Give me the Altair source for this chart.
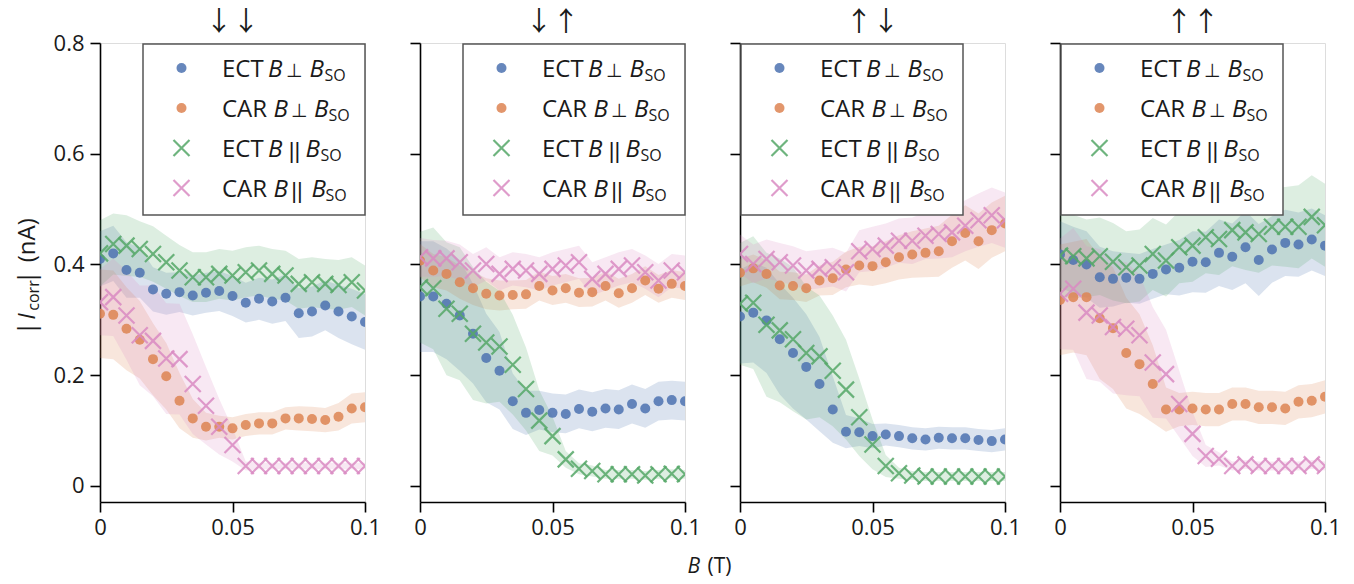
import altair as alt
import pandas as pd

# ---------------- data ----------------
B_T = [0.0, 0.005, 0.01, 0.015, 0.02, 0.025, 0.03, 0.035, 0.04, 0.045, 0.05,
       0.055, 0.06, 0.065, 0.07, 0.075, 0.08, 0.085, 0.09, 0.095, 0.1]

PANEL_TITLES = ["↓↓", "↓↑", "↑↓", "↑↑"]
SERIES = ["ECT_perp", "CAR_perp", "ECT_par", "CAR_par"]
COLORS = {"ECT_perp": "#4c72b0", "CAR_perp": "#dd8452",
          "ECT_par": "#55a868", "CAR_par": "#da8bc3"}

# panel 1  (down down)
p1_ect_perp = [0.41, 0.42, 0.39, 0.385, 0.355, 0.347, 0.35, 0.344, 0.349, 0.352, 0.343,
               0.331, 0.338, 0.333, 0.34, 0.312, 0.315, 0.326, 0.315, 0.306, 0.296]
p1_ect_perp_err = [0.05, 0.05, 0.05, 0.045, 0.04, 0.038, 0.036, 0.036, 0.036, 0.036, 0.036,
                   0.036, 0.038, 0.04, 0.042, 0.045, 0.045, 0.045, 0.048, 0.05, 0.05]
p1_car_perp = [0.311, 0.309, 0.284, 0.264, 0.229, 0.198, 0.154, 0.122, 0.107, 0.107, 0.104,
               0.11, 0.113, 0.113, 0.122, 0.122, 0.121, 0.119, 0.125, 0.14, 0.142]
p1_car_perp_err = [0.08, 0.08, 0.075, 0.07, 0.065, 0.06, 0.05, 0.035, 0.025, 0.02, 0.02,
                   0.02, 0.02, 0.02, 0.02, 0.022, 0.022, 0.022, 0.025, 0.027, 0.027]
p1_ect_par = [0.42, 0.437, 0.434, 0.428, 0.419, 0.404, 0.389, 0.377, 0.377, 0.383, 0.38,
              0.386, 0.389, 0.383, 0.38, 0.365, 0.368, 0.365, 0.363, 0.368, 0.353]
p1_ect_par_err = [0.06, 0.055, 0.055, 0.05, 0.05, 0.048, 0.046, 0.045, 0.045, 0.045, 0.045,
                  0.045, 0.045, 0.045, 0.045, 0.045, 0.045, 0.045, 0.045, 0.045, 0.045]
p1_car_par = [0.332, 0.341, 0.308, 0.272, 0.262, 0.23, 0.229, 0.184, 0.145, 0.107, 0.074,
              0.036, 0.036, 0.036, 0.036, 0.036, 0.036, 0.036, 0.036, 0.036, 0.036]
p1_car_par_err = [0.06, 0.07, 0.08, 0.09, 0.1, 0.1, 0.1, 0.09, 0.07, 0.05, 0.03,
                  0.008, 0.006, 0.006, 0.006, 0.006, 0.006, 0.006, 0.006, 0.006, 0.006]

# panel 2  (down up)
p2_ect_perp = [0.342, 0.342, 0.329, 0.308, 0.275, 0.231, 0.208, 0.153, 0.132, 0.137, 0.132,
               0.13, 0.139, 0.134, 0.14, 0.138, 0.148, 0.14, 0.153, 0.155, 0.153]
p2_ect_perp_err = [0.1, 0.1, 0.1, 0.1, 0.09, 0.08, 0.07, 0.05, 0.04, 0.035, 0.035,
                   0.035, 0.035, 0.035, 0.035, 0.035, 0.035, 0.035, 0.035, 0.035, 0.035]
p2_car_perp = [0.407, 0.389, 0.383, 0.368, 0.357, 0.347, 0.344, 0.345, 0.346, 0.361, 0.353,
               0.357, 0.349, 0.35, 0.361, 0.348, 0.357, 0.371, 0.356, 0.365, 0.361]
p2_car_perp_err = [0.03, 0.03, 0.03, 0.03, 0.03, 0.028, 0.027, 0.026, 0.026, 0.026, 0.026,
                   0.026, 0.026, 0.026, 0.026, 0.026, 0.026, 0.026, 0.025, 0.025, 0.025]
p2_ect_par = [0.359, 0.357, 0.32, 0.311, 0.275, 0.259, 0.252, 0.219, 0.175, 0.118, 0.09,
              0.048, 0.031, 0.027, 0.021, 0.021, 0.021, 0.019, 0.021, 0.022, 0.021]
p2_ect_par_err = [0.1, 0.11, 0.12, 0.12, 0.12, 0.11, 0.1, 0.09, 0.075, 0.055, 0.035,
                  0.015, 0.01, 0.01, 0.008, 0.008, 0.008, 0.008, 0.008, 0.008, 0.008]
p2_car_par = [0.413, 0.411, 0.411, 0.404, 0.389, 0.401, 0.383, 0.392, 0.389, 0.383, 0.392,
              0.398, 0.404, 0.374, 0.383, 0.392, 0.398, 0.386, 0.371, 0.389, 0.386]
p2_car_par_err = [0.035, 0.033, 0.032, 0.032, 0.03, 0.03, 0.03, 0.03, 0.03, 0.03, 0.03,
                  0.03, 0.03, 0.03, 0.03, 0.03, 0.03, 0.03, 0.03, 0.03, 0.03]

# panel 3  (up down)
p3_ect_perp = [0.306, 0.313, 0.299, 0.265, 0.24, 0.215, 0.184, 0.138, 0.098, 0.097, 0.09,
               0.093, 0.09, 0.086, 0.084, 0.087, 0.086, 0.086, 0.083, 0.081, 0.084]
p3_ect_perp_err = [0.085, 0.09, 0.095, 0.1, 0.1, 0.095, 0.085, 0.06, 0.03, 0.025, 0.022,
                   0.02, 0.02, 0.02, 0.02, 0.02, 0.02, 0.02, 0.02, 0.02, 0.02]
p3_car_perp = [0.385, 0.393, 0.383, 0.362, 0.361, 0.357, 0.371, 0.375, 0.391, 0.398, 0.397,
               0.404, 0.413, 0.418, 0.421, 0.424, 0.442, 0.457, 0.442, 0.462, 0.474]
p3_car_perp_err = [0.025, 0.025, 0.025, 0.025, 0.025, 0.025, 0.027, 0.03, 0.032, 0.034, 0.036,
                   0.038, 0.04, 0.042, 0.044, 0.046, 0.048, 0.05, 0.05, 0.05, 0.05]
p3_ect_par = [0.329, 0.331, 0.291, 0.281, 0.265, 0.24, 0.234, 0.208, 0.174, 0.124, 0.075,
              0.036, 0.023, 0.019, 0.017, 0.017, 0.017, 0.017, 0.017, 0.017, 0.017]
p3_ect_par_err = [0.11, 0.12, 0.13, 0.13, 0.13, 0.12, 0.11, 0.1, 0.09, 0.07, 0.045,
                  0.02, 0.01, 0.008, 0.008, 0.008, 0.008, 0.008, 0.008, 0.008, 0.008]
p3_car_par = [0.419, 0.401, 0.41, 0.404, 0.398, 0.389, 0.392, 0.395, 0.386, 0.424, 0.428,
              0.434, 0.443, 0.443, 0.452, 0.455, 0.458, 0.47, 0.48, 0.489, 0.48]
p3_car_par_err = [0.035, 0.035, 0.035, 0.035, 0.035, 0.035, 0.035, 0.035, 0.035, 0.038, 0.04,
                  0.04, 0.04, 0.042, 0.042, 0.044, 0.045, 0.046, 0.048, 0.05, 0.05]

# panel 4  (up up)
p4_ect_perp = [0.418, 0.408, 0.4, 0.377, 0.374, 0.376, 0.374, 0.383, 0.391, 0.394, 0.405,
               0.404, 0.421, 0.414, 0.431, 0.408, 0.427, 0.439, 0.436, 0.445, 0.434]
p4_ect_perp_err = [0.06, 0.06, 0.06, 0.055, 0.05, 0.045, 0.045, 0.045, 0.045, 0.05, 0.055,
                   0.055, 0.06, 0.06, 0.065, 0.065, 0.06, 0.06, 0.058, 0.056, 0.055]
p4_car_perp = [0.336, 0.341, 0.341, 0.303, 0.285, 0.24, 0.22, 0.184, 0.138, 0.138, 0.14,
               0.138, 0.138, 0.148, 0.148, 0.142, 0.142, 0.14, 0.152, 0.154, 0.161]
p4_car_perp_err = [0.1, 0.1, 0.105, 0.11, 0.11, 0.1, 0.09, 0.07, 0.04, 0.03, 0.03,
                   0.03, 0.03, 0.03, 0.03, 0.03, 0.03, 0.03, 0.03, 0.03, 0.03]
p4_ect_par = [0.416, 0.415, 0.411, 0.415, 0.405, 0.395, 0.398, 0.419, 0.407, 0.431, 0.434,
              0.449, 0.446, 0.462, 0.458, 0.455, 0.468, 0.468, 0.468, 0.486, 0.471]
p4_ect_par_err = [0.075, 0.075, 0.07, 0.07, 0.07, 0.065, 0.065, 0.065, 0.065, 0.065, 0.065,
                  0.065, 0.065, 0.065, 0.068, 0.07, 0.07, 0.072, 0.075, 0.075, 0.075]
p4_car_par = [0.347, 0.356, 0.313, 0.308, 0.287, 0.284, 0.272, 0.223, 0.202, 0.148, 0.094,
              0.054, 0.049, 0.036, 0.039, 0.036, 0.036, 0.036, 0.036, 0.039, 0.036]
p4_car_par_err = [0.1, 0.11, 0.12, 0.12, 0.12, 0.12, 0.11, 0.1, 0.08, 0.06, 0.04,
                  0.02, 0.012, 0.008, 0.008, 0.008, 0.008, 0.008, 0.008, 0.008, 0.008]

PANEL_DATA = [
    {"ECT_perp": (p1_ect_perp, p1_ect_perp_err), "CAR_perp": (p1_car_perp, p1_car_perp_err),
     "ECT_par": (p1_ect_par, p1_ect_par_err), "CAR_par": (p1_car_par, p1_car_par_err)},
    {"ECT_perp": (p2_ect_perp, p2_ect_perp_err), "CAR_perp": (p2_car_perp, p2_car_perp_err),
     "ECT_par": (p2_ect_par, p2_ect_par_err), "CAR_par": (p2_car_par, p2_car_par_err)},
    {"ECT_perp": (p3_ect_perp, p3_ect_perp_err), "CAR_perp": (p3_car_perp, p3_car_perp_err),
     "ECT_par": (p3_ect_par, p3_ect_par_err), "CAR_par": (p3_car_par, p3_car_par_err)},
    {"ECT_perp": (p4_ect_perp, p4_ect_perp_err), "CAR_perp": (p4_car_perp, p4_car_perp_err),
     "ECT_par": (p4_ect_par, p4_ect_par_err), "CAR_par": (p4_car_par, p4_car_par_err)},
]

X_TICKS = [0, 0.05, 0.1]
Y_TICKS = [0, 0.2, 0.4, 0.6, 0.8]

# ---------------- layout / style ----------------
W, H = 265, 459
FONT = "Open Sans"
INK = "#1a1a1a"
X_CROSS = "M-1,-1L1,1M-1,1L1,-1"
LEGEND_LEFT = [42, 42, 0, 0]      # legend box position inside each panel
LEG_W, LEG_H = 223, 172
ROW_BASE = [34, 74, 114, 154]

xscale = alt.Scale(domain=[0, 0.1], nice=False, zero=False)
yscale = alt.Scale(domain=[-0.029, 0.8], nice=False, zero=False)


def text_layer(rows, size, style="normal", align="left", font=FONT,
               baseline="alphabetic", angle=0):
    df = pd.DataFrame(rows, columns=["px", "py", "t"])
    return alt.Chart(df).mark_text(
        align=align, baseline=baseline, fontSize=size, fontStyle=style,
        font=font, angle=angle, color=INK, clip=False
    ).encode(x=alt.X("px:Q", scale=None), y=alt.Y("py:Q", scale=None), text="t:N")


def panel(i):
    first = i == 0
    xaxis = alt.Axis(values=X_TICKS, format=".2~f", title=None, grid=False,
                     labelFont=FONT, labelFontSize=22, labelColor=INK, labelPadding=5,
                     tickSize=10, tickWidth=1.6, tickColor="black",
                     domainColor="black", domainWidth=1.6, labelFlush=False)
    yaxis = alt.Axis(values=Y_TICKS, format=".1~f", title=None, grid=False,
                     labels=first, labelFont=FONT, labelFontSize=22, labelColor=INK,
                     labelPadding=6, tickSize=10, tickWidth=1.6, tickColor="black",
                     domainColor="black", domainWidth=1.6)
    layers = []
    bands = []
    pts = []
    for s in SERIES:
        vals, errs = PANEL_DATA[i][s]
        df = pd.DataFrame({"B": B_T, "v": vals,
                           "lo": [v - e for v, e in zip(vals, errs)],
                           "hi": [v + e for v, e in zip(vals, errs)]})
        c = COLORS[s]
        bands.append(alt.Chart(df).mark_area(color=c, opacity=0.2, clip=True).encode(
            x=alt.X("B:Q", scale=xscale, axis=xaxis),
            y=alt.Y("lo:Q", scale=yscale, axis=yaxis),
            y2="hi:Q"))
        if s.endswith("perp"):
            m = alt.Chart(df).mark_point(shape="circle", filled=True, size=100,
                                         opacity=0.85, color=c, clip=True)
        else:
            m = alt.Chart(df).mark_point(shape=X_CROSS, filled=False, size=256,
                                         strokeWidth=2.2, opacity=0.85, color=c, clip=True)
        pts.append(m.encode(x=alt.X("B:Q", scale=xscale, axis=xaxis),
                            y=alt.Y("v:Q", scale=yscale, axis=yaxis)))
    layers += bands + pts

    # legend (drawn by hand so that italics and subscripts can be shown)
    L = LEGEND_LEFT[i]
    box = pd.DataFrame({"x1": [L + 1], "x2": [L + LEG_W], "y1": [1], "y2": [LEG_H]})
    layers.append(alt.Chart(box).mark_rect(fill="white", stroke="#555", strokeWidth=1.5).encode(
        x=alt.X("x1:Q", scale=None), x2="x2:Q", y=alt.Y("y1:Q", scale=None), y2="y2:Q"))
    circ = pd.DataFrame({"px": [L + 39.5, L + 39.5], "py": [ROW_BASE[0] - 9, ROW_BASE[1] - 9],
                         "c": [COLORS["ECT_perp"], COLORS["CAR_perp"]]})
    cros = pd.DataFrame({"px": [L + 39.5, L + 39.5], "py": [ROW_BASE[2] - 9, ROW_BASE[3] - 9],
                         "c": [COLORS["ECT_par"], COLORS["CAR_par"]]})
    layers.append(alt.Chart(circ).mark_point(shape="circle", filled=True, size=100, opacity=0.85).encode(
        x=alt.X("px:Q", scale=None), y=alt.Y("py:Q", scale=None), color=alt.Color("c:N", scale=None)))
    layers.append(alt.Chart(cros).mark_point(shape=X_CROSS, filled=False, size=256, strokeWidth=2.2,
                                             opacity=0.85).encode(
        x=alt.X("px:Q", scale=None), y=alt.Y("py:Q", scale=None), color=alt.Color("c:N", scale=None)))
    r = ROW_BASE
    normal = [(L + 80, r[0], "ECT"), (L + 80, r[1], "CAR"), (L + 80, r[2], "ECT"), (L + 80, r[3], "CAR")]
    ital = [(L + 126, r[0], "B"), (L + 167.5, r[0], "B"),
            (L + 131.5, r[1], "B"), (L + 172, r[1], "B"),
            (L + 126, r[2], "B"), (L + 163.5, r[2], "B"),
            (L + 131.5, r[3], "B"), (L + 169.5, r[3], "B")]
    sub = [(L + 182.5, r[0] + 3.5, "SO"), (L + 186.5, r[1] + 3.5, "SO"),
           (L + 178.5, r[2] + 3.5, "SO"), (L + 183.5, r[3] + 3.5, "SO")]
    perp = [(L + 152.3, r[0], "⊥"), (L + 157.3, r[1], "⊥")]
    bars = [(L + 152.5, r[2] + 1, "||"), (L + 155, r[3] + 1, "||")]
    layers.append(text_layer(normal, 24))
    layers.append(text_layer(ital, 24, style="italic"))
    layers.append(text_layer(sub, 16))
    layers.append(text_layer(perp, 19, align="center", font="DejaVu Sans"))
    layers.append(text_layer(bars, 22, align="center", font="Liberation Sans"))

    # panel title (spin configuration)
    layers.append(text_layer([(W / 2, -20, PANEL_TITLES[i])], 27, align="center",
                             font="Noto Sans CJK JP", baseline="middle"))

    if first:  # y-axis title |I_corr| (nA)
        layers.append(text_layer([(-65, 285.5, "|"), (-65, 234.5, "|")], 24, align="center", angle=270))
        layers.append(text_layer([(-65, 273.5, "I")], 24, style="italic", align="center", angle=270))
        layers.append(text_layer([(-61, 252.5, "corr")], 16, align="center", angle=270))
        layers.append(text_layer([(-65, 197.3, "(nA)")], 24, align="center", angle=270))
    if i == 1:  # x-axis title B (T)
        layers.append(text_layer([(267.5, 530, "B")], 21, style="italic"))
        layers.append(text_layer([(287.5, 530, "(T)")], 21))

    return alt.layer(*layers).properties(width=W, height=H)


chart = alt.hconcat(*[panel(i) for i in range(4)], spacing=55, bounds="flush").properties(
    padding={"left": 7, "top": 0, "right": 5, "bottom": 5}
).configure_view(stroke="black", strokeWidth=1.6).configure(background="white")

chart.save("out.html", embed_options={"renderer": "svg", "actions": False})
